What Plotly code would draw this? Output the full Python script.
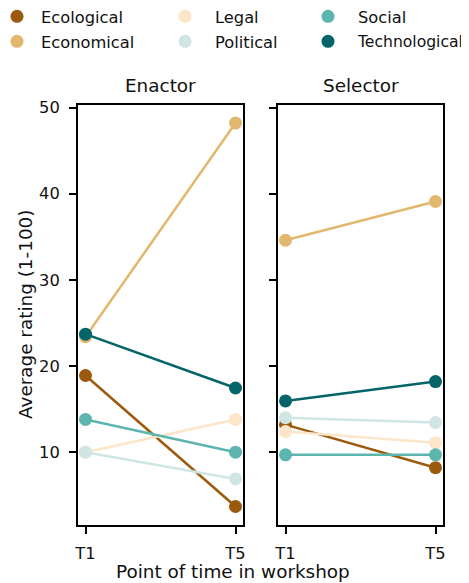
import plotly.graph_objects as go

# ---- data ----
periods = ["T1", "T5"]
categories = ["Ecological", "Economical", "Legal", "Political", "Social", "Technological"]
enactor_t1 = [18.9, 23.4, 10.0, 10.0, 13.8, 23.7]
enactor_t5 = [3.7, 48.2, 13.8, 6.9, 10.0, 17.45]
selector_t1 = [13.2, 34.6, 12.4, 14.0, 9.7, 15.95]
selector_t5 = [8.2, 39.1, 11.1, 13.45, 9.7, 18.2]
colors = ["#9c5a0c", "#e2b86f", "#fce5c8", "#cfe6e4", "#5db5af", "#03646a"]
panel_titles = ["Enactor", "Selector"]
y_ticks = [10, 20, 30, 40, 50]

# page body has an 8px default margin, so the figure is drawn 8px smaller
OFF = 8
W, H = 469 - OFF, 583 - OFF
ML, MR, MT, MB = 78 - OFF, 26, 105 - OFF, 58
PW = W - ML - MR
PH = H - MT - MB

FONT = "DejaVu Sans"
TXT = "#111111"
SMALL = 16.3
LARGE = 18.4

fig = go.Figure()

panels = [(enactor_t1, enactor_t5, "x", "y"), (selector_t1, selector_t5, "x2", "y2")]
for t1, t5, xa, ya in panels:
    for i, cat in enumerate(categories):
        fig.add_trace(go.Scatter(
            x=periods, y=[t1[i], t5[i]], xaxis=xa, yaxis=ya,
            mode="lines+markers", name=cat, showlegend=False,
            line=dict(color=colors[i], width=2.5),
            marker=dict(color=colors[i], size=13),
        ))

# legend entries (marker only), one legend per item for exact placement
# (marker x, marker y, itemwidth, indentation, font size) in reference pixels
legend_spec = [(10, 16.7, 38, -15, SMALL), (10, 41.7, 38, -15, SMALL),
               (185, 16.7, 50, 0, SMALL), (185, 41.7, 50, 0, SMALL),
               (328, 16.7, 50, -15, SMALL), (328, 41.7, 50, -15, 15.6)]
layout_legends = {}
for i, cat in enumerate(categories):
    key = "legend" if i == 0 else f"legend{i+1}"
    fig.add_trace(go.Scatter(
        x=[None], y=[None], mode="markers", name=cat, showlegend=True,
        legend=key, marker=dict(color=colors[i], size=13),
    ))
    mx, my, iw, ind, fs = legend_spec[i]
    lx = max(0, mx - OFF - (iw + 10) / 2 - ind)
    layout_legends[key] = dict(
        xref="container", yref="container", orientation="h",
        x=lx / W, y=1 - (my - OFF) / H, xanchor="left", yanchor="middle",
        itemwidth=iw, indentation=ind,
        font=dict(family=FONT, size=fs, color=TXT),
        bgcolor="rgba(0,0,0,0)", borderwidth=0,
    )

axis_common = dict(
    showline=True, linecolor="black", linewidth=1.8, mirror=True,
    ticks="outside", ticklen=7, tickwidth=1.8, tickcolor="black",
    showgrid=False, zeroline=False,
    tickfont=dict(family=FONT, size=SMALL, color=TXT),
)
xr = [-0.05, 1.05]
yr = [1.55, 50.3]

fig.update_layout(
    width=W, height=H,
    margin=dict(l=ML, r=MR, t=MT, b=MB, pad=0, autoexpand=False),
    paper_bgcolor="white", plot_bgcolor="white",
    showlegend=True,
    xaxis=dict(domain=[0, 165 / PW], range=xr, type="category", anchor="y",
               ticklabelstandoff=6, **axis_common),
    xaxis2=dict(domain=[200 / PW, 1], range=xr, type="category", anchor="y2",
                ticklabelstandoff=6, **axis_common),
    yaxis=dict(domain=[0, 1], range=yr, tickvals=y_ticks, anchor="x",
               ticklabelstandoff=6, **axis_common),
    yaxis2=dict(domain=[0, 1], range=yr, tickvals=y_ticks, anchor="x2",
                matches="y", showticklabels=False, **axis_common),
    **layout_legends,
)

# annotation positions given in reference pixels, converted to paper coords
def px_x(px):
    return (px - OFF - ML) / PW

def px_y(py):
    return (H - MB - (py - OFF)) / PH

annos = []
for title, cx in zip(panel_titles, [(78 + 243) / 2, (278 + 443) / 2]):
    annos.append(dict(text=title, xref="paper", yref="paper",
                      x=px_x(cx), y=px_y(85.5),
                      xanchor="center", yanchor="middle", showarrow=False,
                      font=dict(family=FONT, size=LARGE, color=TXT)))
annos.append(dict(text="Average rating (1-100)", xref="paper", yref="paper",
                  x=px_x(25), y=0.5, textangle=-90,
                  xanchor="center", yanchor="middle", showarrow=False,
                  font=dict(family=FONT, size=LARGE, color=TXT)))
annos.append(dict(text="Point of time in workshop", xref="paper", yref="paper",
                  x=px_x(232.5), y=px_y(571.7),
                  xanchor="center", yanchor="middle", showarrow=False,
                  font=dict(family=FONT, size=LARGE, color=TXT)))
fig.update_layout(annotations=annos)

fig.write_html("out.html")
